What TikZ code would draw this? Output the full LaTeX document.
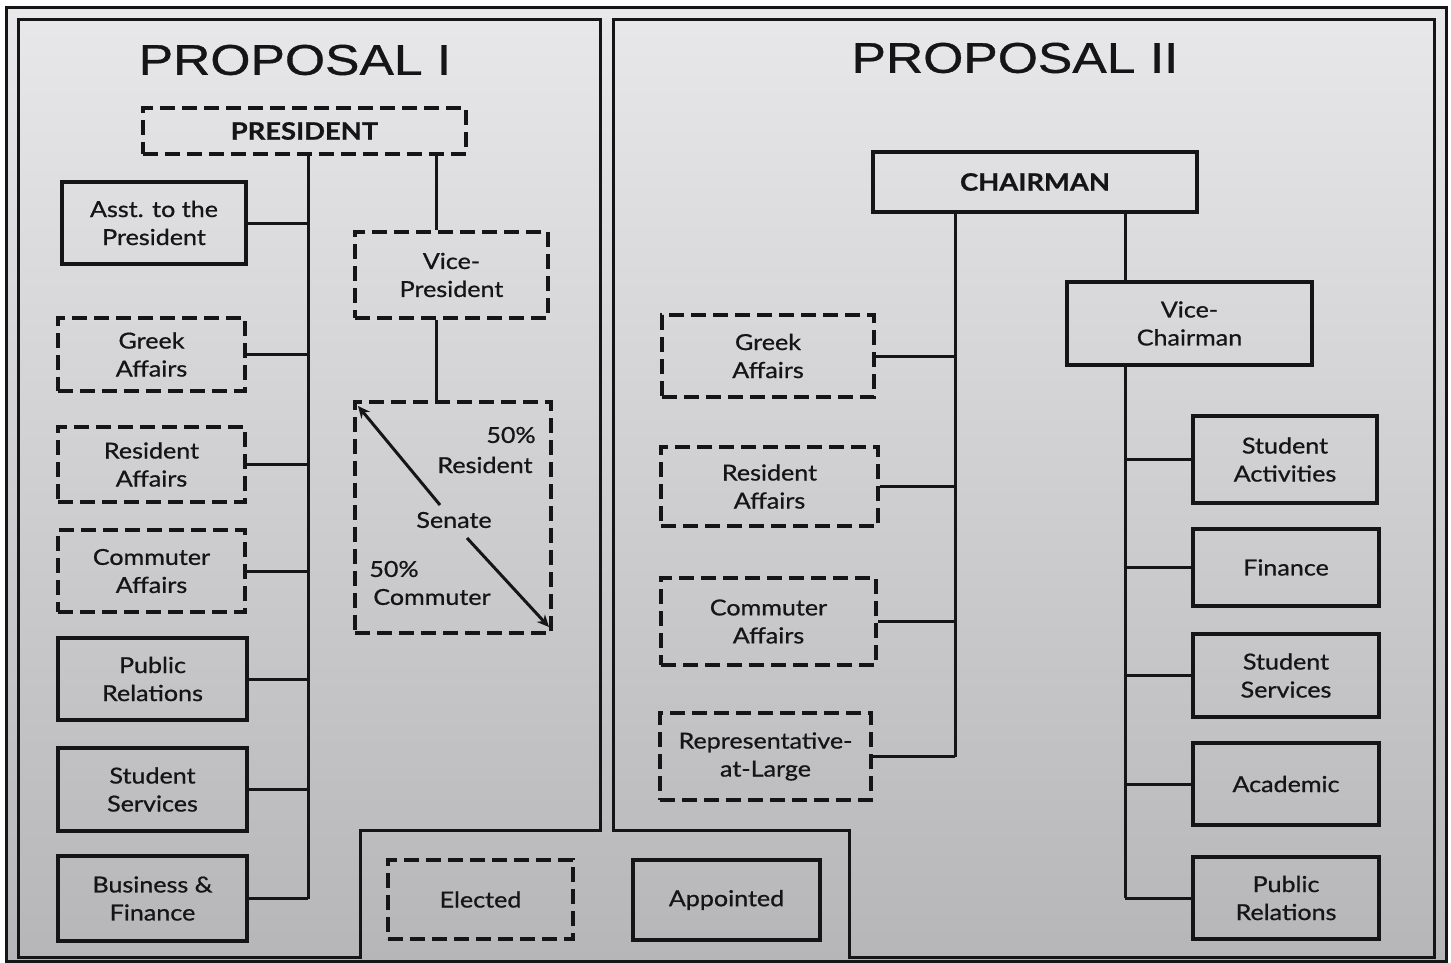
\documentclass[tikz,border=0pt]{standalone}
\usepackage{fontspec}
\setmainfont[FakeStretch=1.15]{Lato}
\newfontfamily\bxface[FakeStretch=1.14, FakeBold=0.8]{Lato}
\newfontfamily\titlefont[FakeStretch=1.2, FakeBold=0.8]{Liberation Sans}
\usetikzlibrary{arrows.meta}
\definecolor{ink}{HTML}{151515}
\definecolor{bgtop}{HTML}{E8E8EA}
\definecolor{bgmid}{HTML}{DADADD}
\definecolor{bgbot}{HTML}{B6B6B9}
\newcommand\bxfont{\bxface\fontsize{22}{28}\selectfont}
\newcommand\hdfont{\bxface\bfseries\fontsize{24}{28}\selectfont}
\tikzset{
  box/.style={draw=ink, line width=4.8pt, align=center, inner sep=0pt, font=\bxfont, text=ink},
  solidbox/.style={box},
  dashbox/.style={box, dash pattern=on 15pt off 7pt},
  conn/.style={draw=ink, line width=3pt},
  panel/.style={draw=ink, line width=3pt},
  lbl/.style={font=\bxfont, text=ink, inner sep=0pt},
  ttl/.style={font=\titlefont\fontsize{43}{50}\selectfont, text=ink, inner sep=0pt},
  sarrow/.style={draw=ink, line width=3pt, -{Stealth[length=12pt,width=11pt]}},
}
\begin{document}
\begin{tikzpicture}[x=1pt,y=-1pt]
\useasboundingbox (0,0) rectangle (1451,963);
% background
\shade[top color=bgtop, middle color=bgmid, bottom color=bgbot] (6,8) rectangle (1446,961);
\draw[panel] (6,8) rectangle (1446,961);
% panels
\draw[panel] (18,20) -- (600,20) -- (600,830) -- (360,830) -- (360,957) -- (18,957) -- cycle;
\draw[panel] (613,20) -- (1434,20) -- (1434,957) -- (849,957) -- (849,830) -- (613,830) -- cycle;

% titles
\node[ttl] (t1) at (295,60) {PROPOSAL I};
\node[ttl] (t2) at (1015,58) {PROPOSAL II};

% ---------- Proposal I ----------
\node[dashbox, font=\hdfont, minimum width=323, minimum height=46] (pres) at (304.5,131) {PRESIDENT};
\node[solidbox, minimum width=184, minimum height=82] (asst) at (154,223) {Asst. to the\\President};
\node[dashbox, minimum width=193, minimum height=86] (vp) at (451.5,275) {Vice-\\President};
\node[dashbox, minimum width=187, minimum height=73] (greekA) at (151.5,354.5) {Greek\\Affairs};
\node[dashbox, minimum width=187, minimum height=75] (resA) at (151.5,464.5) {Resident\\Affairs};
\node[dashbox, minimum width=187, minimum height=82] (comA) at (151.5,571) {Commuter\\Affairs};
\node[dashbox, minimum width=196, minimum height=231] (senate) at (453,517.5) {};
\node[solidbox, minimum width=189, minimum height=82] (prA) at (152.5,679) {Public\\Relations};
\node[solidbox, minimum width=189, minimum height=83] (ssA) at (152.5,789.5) {Student\\Services};
\node[solidbox, minimum width=189, minimum height=85] (bfA) at (152.5,898.5) {Business \&\\Finance};

% senate contents
\node[lbl] (s50a) at (511,435) {50\%};
\node[lbl] (sres) at (485,465) {Resident};
\node[lbl] (sname) at (454,520) {Senate};
\node[lbl] (s50b) at (394,569) {50\%};
\node[lbl] (scom) at (432,597) {Commuter};
\coordinate (d1) at (440,505);
\coordinate (d2) at (467,538);
\coordinate (c1) at (358,406);
\coordinate (c2) at (549,627);
\draw[sarrow] (d1) -- (c1);
\draw[sarrow] (d2) -- (c2);

% connectors Proposal I
\coordinate (T1) at (308,0);
\coordinate (V1) at (436,0);
\draw[conn] (pres.south -| T1) -- (bfA.east -| T1);
\foreach \n in {asst,greekA,resA,comA,prA,ssA,bfA}
  \draw[conn] (\n.east) -- (\n.east -| T1);
\draw[conn] (pres.south -| V1) -- (vp.north -| V1);
\draw[conn] (vp.south -| V1) -- (senate.north -| V1);

% ---------- Proposal II ----------
\node[solidbox, font=\hdfont, minimum width=324, minimum height=60] (chair) at (1035,182) {CHAIRMAN};
\node[solidbox, minimum width=245, minimum height=83] (vc) at (1189.5,323.5) {Vice-\\Chairman};
\node[dashbox, minimum width=212, minimum height=82] (greekB) at (768,356) {Greek\\Affairs};
\node[dashbox, minimum width=217, minimum height=79] (resB) at (769.5,486.5) {Resident\\Affairs};
\node[dashbox, minimum width=215, minimum height=87] (comB) at (768.5,621.5) {Commuter\\Affairs};
\node[dashbox, minimum width=211, minimum height=87] (rep) at (765.5,756.5) {Representative-\\at-Large};
\node[solidbox, minimum width=184, minimum height=87] (sa) at (1285,459.5) {Student\\Activities};
\node[solidbox, minimum width=186, minimum height=77] (fin) at (1286,567.5) {Finance};
\node[solidbox, minimum width=186, minimum height=83] (ssB) at (1286,675.5) {Student\\Services};
\node[solidbox, minimum width=186, minimum height=82] (acad) at (1286,784) {Academic};
\node[solidbox, minimum width=186, minimum height=82] (prB) at (1286,898) {Public\\Relations};

\coordinate (T2) at (955,0);
\coordinate (T3) at (1125,0);
\draw[conn] (chair.south -| T2) -- (rep.east -| T2);
\foreach \n in {greekB,resB,comB,rep}
  \draw[conn] (\n.east) -- (\n.east -| T2);
\draw[conn] (chair.south -| T3) -- (vc.north -| T3);
\draw[conn] (vc.south -| T3) -- (prB.west -| T3);
\foreach \n in {sa,fin,ssB,acad,prB}
  \draw[conn] (\n.west) -- (\n.west -| T3);

% legend
\node[dashbox, minimum width=185, minimum height=79] (elected) at (480.5,899.5) {Elected};
\node[solidbox, minimum width=187, minimum height=80] (appointed) at (726.5,900) {Appointed};
\end{tikzpicture}
\end{document}
